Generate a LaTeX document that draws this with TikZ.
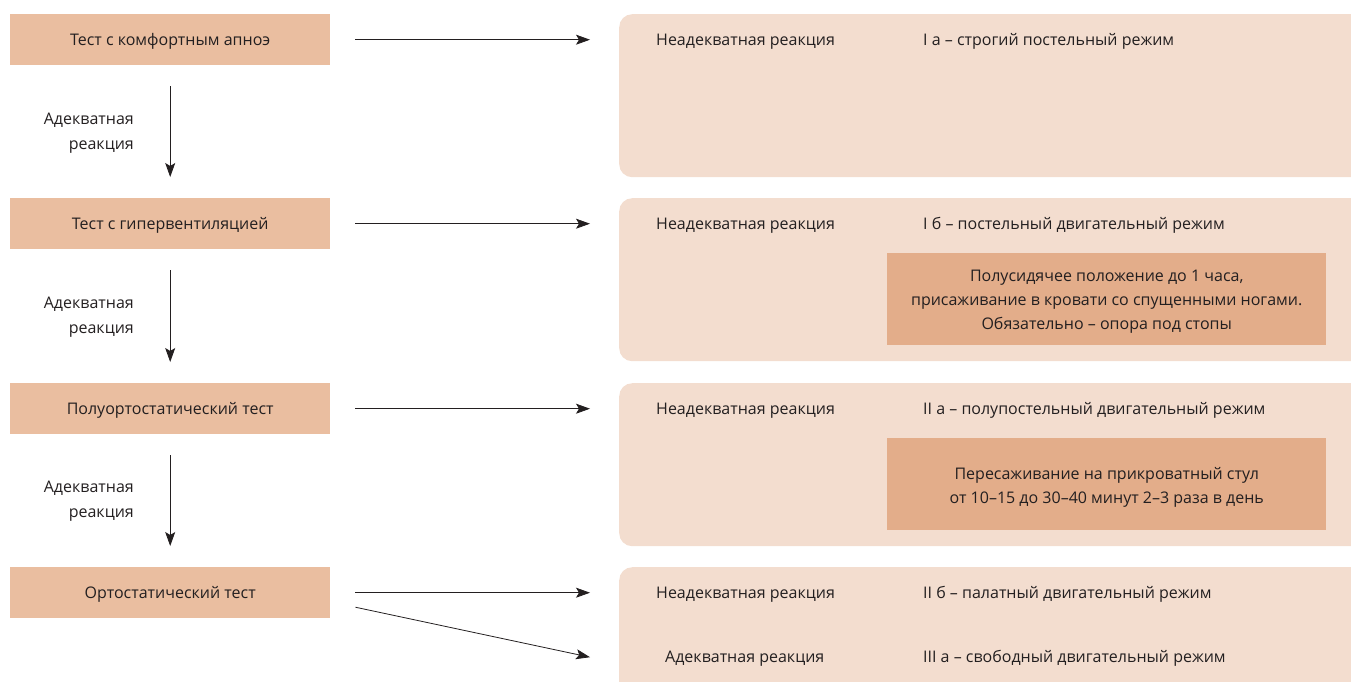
\documentclass[tikz,border=0pt]{standalone}
\usepackage{fontspec}
\setmainfont{Open Sans}
\usetikzlibrary{arrows.meta}
\definecolor{lbox}{RGB}{234,190,160}
\definecolor{rbox}{RGB}{243,221,207}
\definecolor{ibox}{RGB}{227,173,138}
\definecolor{txt}{RGB}{35,31,32}
\tikzset{
  x=1pt,y=-1pt,
  every node/.style={font=\fontsize{16}{24}\selectfont, text=txt, inner sep=0pt},
  testbox/.style={fill=lbox, minimum width=320pt, minimum height=51pt, anchor=north west, text height=11.4pt, text depth=0pt},
  regbox/.style={fill=rbox, rounded corners=13pt, minimum width=760pt, minimum height=163pt, anchor=north west},
  innerbox/.style={fill=ibox, minimum width=439pt, minimum height=92pt, anchor=north west},
  innertext/.style={align=center},
  lbl/.style={anchor=base west},
  adq/.style={anchor=east, align=right, font=\fontsize{16}{25}\selectfont},
  arr/.style={draw=txt, line width=0.8pt, -{Stealth[length=14pt,width=10pt,inset=3pt]}}
}
\begin{document}
\begin{tikzpicture}
\useasboundingbox (0,0) rectangle (1351,681);
\begin{scope}
\clip (0,0) rectangle (1351,681);
\node[regbox] (r1) at (619,14) {};
\node[regbox] (r2) at (619,198) {};
\node[regbox] (r3) at (619,383) {};
\node[regbox] (r4) at (619,567) {};
\end{scope}
\node[testbox] (l1) at (10,14) {Тест с комфортным апноэ};
\node[testbox] (l2) at (10,198) {Тест с гипервентиляцией};
\node[testbox] (l3) at (10,383) {Полуортостатический тест};
\node[testbox] (l4) at (10,567) {Ортостатический тест};

\node[innerbox] (i2) at (887,253) {};
\node[innertext] (t2) at ([yshift=-3pt]i2.center) {Полусидячее положение до 1 часа,\\присаживание в кровати со спущенными ногами.\\Обязательно – опора под стопы};
\node[innerbox] (i3) at (887,438) {};
\node[innertext] (t3) at ([yshift=-3.5pt]i3.center) {Пересаживание на прикроватный стул\\от 10–15 до 30–40 минут 2–3 раза в день};

\node[lbl] (n1) at (656,45.5) {Неадекватная реакция};
\node[lbl] (m1) at (923,45.5) {I а – строгий постельный режим};
\node[lbl] (n2) at (656,229.5) {Неадекватная реакция};
\node[lbl] (m2) at (923,229.5) {I б – постельный двигательный режим};
\node[lbl] (n3) at (656,414.5) {Неадекватная реакция};
\node[lbl] (m3) at (923,414.5) {II а – полупостельный двигательный режим};
\node[lbl] (n4) at (656,598.5) {Неадекватная реакция};
\node[lbl] (m4) at (923,598.5) {II б – палатный двигательный режим};
\node[lbl] (a4) at (665,662.5) {Адекватная реакция};
\node[lbl] (m5) at (923,662.5) {III а – свободный двигательный режим};

\node[adq] (q1) at (134,133) {Адекватная\\реакция};
\node[adq] (q2) at (134,317) {Адекватная\\реакция};
\node[adq] (q3) at (134,501) {Адекватная\\реакция};

\draw[arr] ([yshift=-21pt]l1.south) -- ([yshift=21pt]l2.north);
\draw[arr] ([yshift=-21pt]l2.south) -- ([yshift=21pt]l3.north);
\draw[arr] ([yshift=-21pt]l3.south) -- ([yshift=21pt]l4.north);

\draw[arr] ([xshift=25pt]l1.east) -- ([xshift=-29pt]l1.east -| r1.west);
\draw[arr] ([xshift=25pt]l2.east) -- ([xshift=-29pt]l2.east -| r2.west);
\draw[arr] ([xshift=25pt]l3.east) -- ([xshift=-29pt]l3.east -| r3.west);
\draw[arr] ([xshift=25pt]l4.east) -- ([xshift=-29pt]l4.east -| r4.west);
\coordinate (d4) at ([xshift=-29pt,yshift=-64.5pt]l4.east -| r4.west);
\draw[arr] ([xshift=25pt,yshift=-14.5pt]l4.east) -- (d4);
\end{tikzpicture}
\end{document}
